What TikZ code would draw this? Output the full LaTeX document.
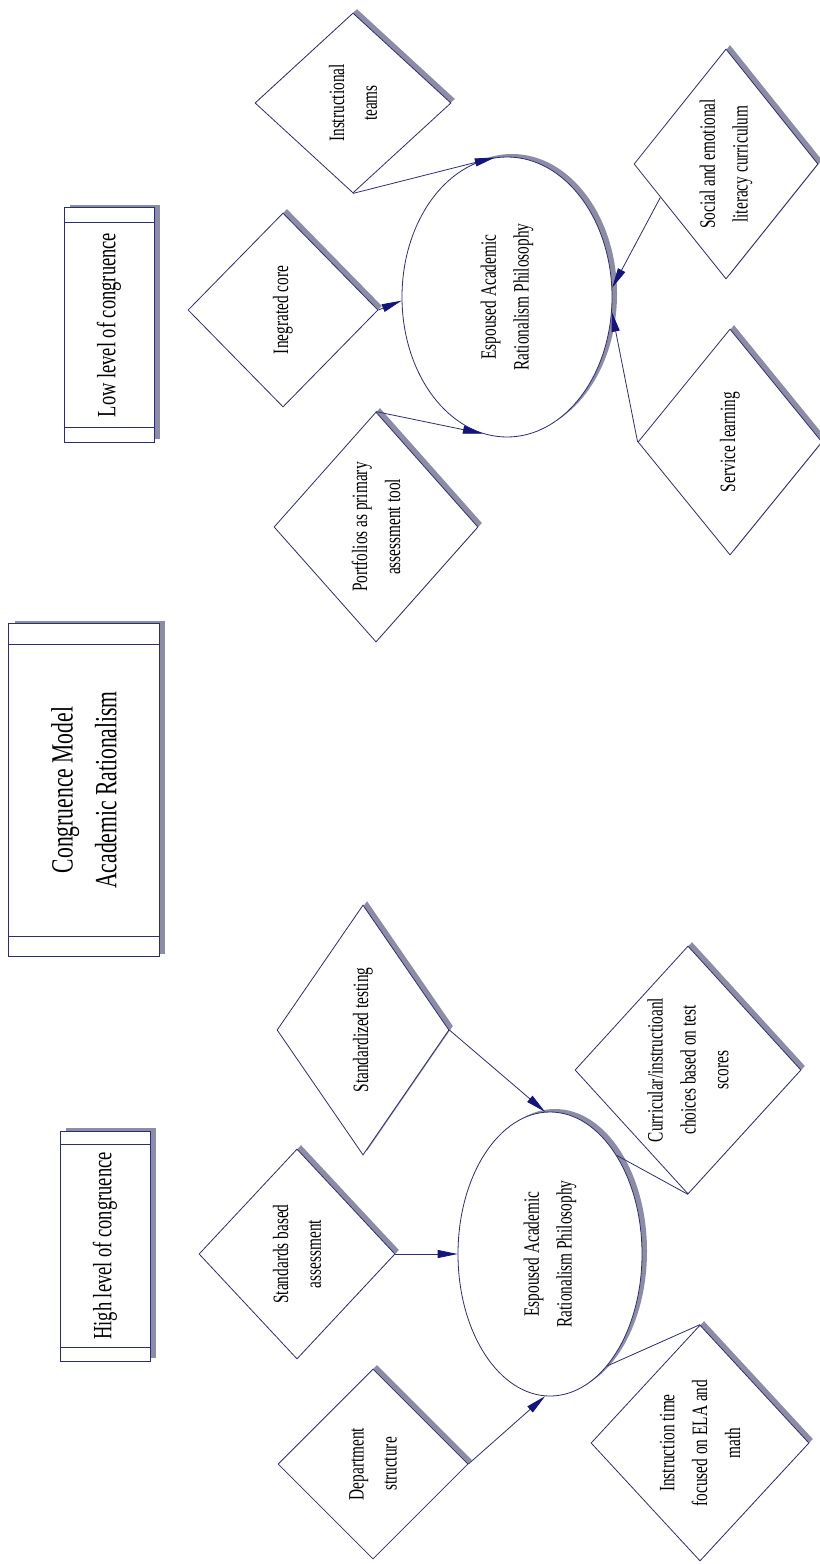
\documentclass[tikz,border=0pt]{standalone}
\usepackage{fontspec}
\newfontfamily\narrowserif[FakeStretch=0.7]{Liberation Serif}
\definecolor{edge}{RGB}{45,45,115}
\definecolor{tip}{RGB}{20,20,125}
\definecolor{shade}{RGB}{140,140,165}
\usetikzlibrary{arrows.meta,shapes.geometric,shadows}
\tikzset{
  choice/.style={diamond, draw=edge, line width=0.8bp, fill=white, inner sep=0pt,
                 drop shadow={shadow xshift=4bp, shadow yshift=4bp, fill=shade, opacity=1}},
  belief/.style={ellipse, draw=edge, line width=0.8bp, fill=white, inner sep=0pt,
                 drop shadow={shadow xshift=5bp, shadow yshift=3bp, fill=shade, opacity=1}},
  panel/.style={rectangle, draw=edge, line width=1bp, fill=white, inner sep=0pt,
                drop shadow={shadow xshift=6bp, shadow yshift=3bp, fill=shade, opacity=1}},
  word/.style={rotate=90, align=center, inner sep=0pt, fill=white,
               font=\narrowserif\fontsize{22}{33}\selectfont},
  bigword/.style={word, font=\narrowserif\fontsize{26.5}{38}\selectfont},
  titleword/.style={word, font=\narrowserif\fontsize{31}{44}\selectfont},
  flow/.style={draw=edge, line width=0.8bp, -{Triangle[length=20bp,width=8bp,color=tip]}},
  link/.style={draw=edge, line width=0.8bp},
}
\begin{document}
\begin{tikzpicture}[x=1bp,y=-1bp]
  \useasboundingbox (0,0) rectangle (819,1564);
  \fill[white] (0,0) rectangle (819,1564);

  \node[panel, minimum width=90bp, minimum height=234bp,
        label={[bigword]center:Low level of congruence}] (low) at (109,325) {};
  \node[panel, minimum width=150bp, minimum height=333bp,
        label={[titleword]center:{Congruence Model\\Academic Rationalism}}] (title) at (84,790) {};
  \node[panel, minimum width=90bp, minimum height=230bp,
        label={[bigword]center:High level of congruence}] (high) at (105,1246) {};
  \foreach \b/\g in {low/15, title/21, high/14} {
    \draw[edge] ([yshift=-\g bp]\b.north west) -- ([yshift=-\g bp]\b.north east);
    \draw[edge] ([yshift=\g bp]\b.south west) -- ([yshift=\g bp]\b.south east);
  }

  \node[choice, minimum width=196bp, minimum height=180bp,
        label={[word]center:{Instructional\\teams}}] (teams) at (353,103) {};
  \node[choice, minimum width=190bp, minimum height=194bp,
        label={[word]center:Inegrated core}] (core) at (283,310) {};
  \node[choice, minimum width=204bp, minimum height=230bp,
        label={[word]center:{Portfolios as primary\\assessment tool}}] (folio) at (376,527) {};
  \node[belief, minimum width=210bp, minimum height=280bp,
        label={[word]center:{Espoused Academic\\Rationalism Philosophy}}] (lowphil) at (507,297) {};
  \node[choice, minimum width=184bp, minimum height=230bp,
        label={[word]center:{Social and emotional\\literacy curriculum}}] (sel) at (726,164) {};
  \node[choice, minimum width=184bp, minimum height=226bp,
        label={[word]center:Service learning}] (service) at (730,442) {};

  \node[choice, minimum width=172bp, minimum height=250bp,
        label={[word]center:Standardized testing}] (tests) at (363,1030) {};
  \node[choice, minimum width=196bp, minimum height=210bp,
        label={[word]center:{Standards based\\assessment}}] (stand) at (297,1254) {};
  \node[choice, minimum width=190bp, minimum height=190bp,
        label={[word]center:{Department\\structure}}] (dept) at (373,1464) {};
  \node[belief, minimum width=184bp, minimum height=284bp,
        label={[word]center:{Espoused Academic\\Rationalism Philosophy}}] (highphil) at (550,1254) {};
  \node[choice, minimum width=226bp, minimum height=248bp,
        label={[word]center:{Curricular/instructioanl\\choices based on test\\scores}}] (scores) at (688,1070) {};
  \node[choice, minimum width=218bp, minimum height=236bp,
        label={[word]center:{Instruction time\\focused on ELA and\\math}}] (ela) at (700,1443) {};

  \draw[flow] (teams.south) -- (lowphil.95);
  \draw[flow] (core.east) -- (lowphil.182);
  \draw[flow] (folio.north) -- (lowphil.260);
  \draw[flow] (sel.207) -- (lowphil.5);
  \draw[flow] (service.west) -- (lowphil.-8);

  \draw[flow] (tests.east) -- (highphil.92);
  \draw[flow] (stand.east) -- (highphil.west);
  \draw[flow] (dept.east) -- (highphil.268);
  \draw[link] (scores.south) -- (highphil.56);
  \draw[link] (ela.north) -- (highphil.297);
\end{tikzpicture}
\end{document}
